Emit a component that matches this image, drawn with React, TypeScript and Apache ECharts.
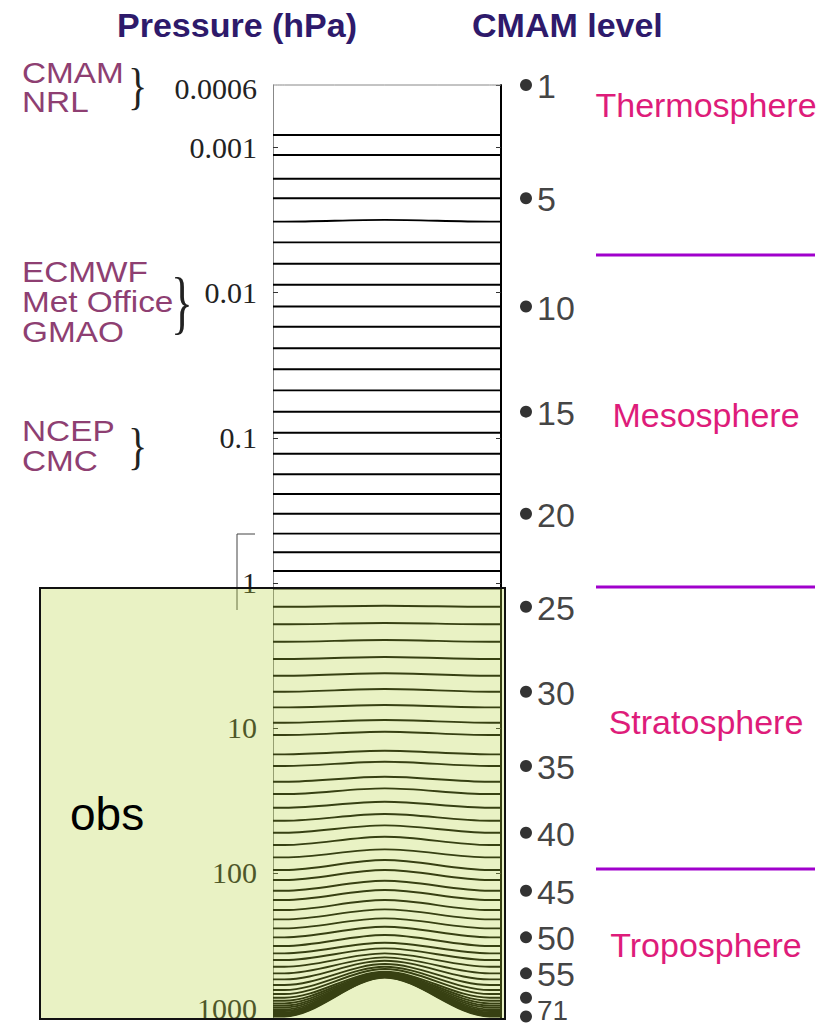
import React, { useEffect, useRef } from 'react';
import * as echarts from 'echarts';

// Pressure (hPa) of each CMAM model level (1..71) far from the mountain (plot edges)
const edgePressure = [
  0.00037, 0.000818, 0.001124, 0.001638, 0.002235, 0.003236, 0.004497, 0.00631, 0.00881, 0.01245,
  0.01715, 0.02415, 0.03373, 0.0471, 0.0661, 0.0923, 0.1288, 0.1786, 0.2443, 0.334,
  0.458, 0.616, 0.829, 1.095, 1.462, 1.932, 2.548, 3.352, 4.37, 5.634,
  7.217, 9.215, 11.2, 15.22, 18.32, 23.51, 28.58, 35.52, 43.66, 52.83,
  64.22, 78.06, 95.5, 111.9, 132.7, 153.8, 180.3, 208.9, 240.9, 278.0,
  319.2, 358.4, 398.6, 443.4, 492.4, 541.5, 592.7, 641.8, 683.9, 725.2,
  760.6, 792.7, 820.9, 847.4, 872.0, 895.9, 917.4, 934.8, 951.3, 965.0,
  977.2,
];

// Pressure (hPa) of each level above the mountain peak (centre of the plot)
const peakPressure = [
  0.00037, 0.000818, 0.001124, 0.001638, 0.002235, 0.00315, 0.004497, 0.00631, 0.00881, 0.01245,
  0.01715, 0.02415, 0.03373, 0.0471, 0.0661, 0.0923, 0.1288, 0.1786, 0.2443, 0.334,
  0.458, 0.616, 0.829, 1.095, 1.438, 1.893, 2.479, 3.248, 4.206, 5.397,
  6.958, 8.83, 10.63, 14.37, 17.12, 21.72, 26.11, 32.29, 39.26, 46.97,
  56.29, 68.77, 81.5, 95.5, 113.2, 131.2, 153.8, 178.2, 205.6, 234.9,
  268.0, 302.9, 331.1, 358.4, 381.9, 403.0, 424.7, 443.4, 459.8, 479.9,
  487.5, 493.8, 499.3, 504.1, 508.1, 512.1, 515.4, 518.7, 522.0, 524.5,
  527.0,
];

// horizontal positions (fraction of the cross-section) of: edge, foot, peak, foot, edge
const profileX = [0, 0.05, 0.49, 0.95, 1];

const markedLevels = [1, 5, 10, 15, 20, 25, 30, 35, 40, 45, 50, 55, 60, 71];
const unlabeledLevels = [60];

const pressureMin = 0.00037;
const pressureMax = 1000;
const topLabel = '0.0006';

const layerNames = ['Thermosphere', 'Mesosphere', 'Stratosphere', 'Troposphere'];
const centreGroups = [['CMAM', 'NRL'], ['ECMWF', 'Met Office', 'GMAO'], ['NCEP', 'CMC']];

const SANS = '"Liberation Sans", Arial, sans-serif';
const SERIF = '"Liberation Serif", "Times New Roman", serif';

export default function App() {
  const ref = useRef<HTMLDivElement>(null);

  useEffect(() => {
    if (!ref.current) return;
    const chart = echarts.init(ref.current, undefined, { renderer: 'svg' });

    const levelSeries = edgePressure.map((pe, i) => {
      const pk = peakPressure[i];
      const ys = [pe, pe, pk, pe, pe];
      return {
        type: 'line',
        xAxisIndex: 0,
        yAxisIndex: 0,
        data: profileX.map((x, j) => [x, ys[j]]),
        symbol: 'none',
        showSymbol: false,
        smooth: 0.33,
        smoothMonotone: 'x',
        clip: false,
        silent: true,
        lineStyle: { color: i === 0 ? '#888' : '#000', width: i === 0 ? 1 : 1.9 },
        z: 2,
      };
    });

    const lastLevel = markedLevels[markedLevels.length - 1];
    const dotSeries = {
      type: 'scatter',
      xAxisIndex: 1,
      yAxisIndex: 2,
      data: markedLevels.map((lv) =>
        lv === lastLevel
          ? { value: [0.26, edgePressure[lv - 1], lv], label: { offset: [0, -6], fontSize: 28 } }
          : { value: [0.26, edgePressure[lv - 1], lv] }
      ),
      symbol: 'circle',
      symbolSize: 12,
      clip: false,
      silent: true,
      itemStyle: { color: '#000' },
      label: {
        show: true,
        position: 'right',
        distance: 5,
        offset: [0, 1],
        fontFamily: SANS,
        fontSize: 34,
        color: '#111',
        formatter: (p: any) => (unlabeledLevels.includes(p.value[2]) ? '' : String(p.value[2])),
      },
    };

    const fmt = (v: number) => {
      const s = String(parseFloat(Number(v).toPrecision(3)));
      return v >= pressureMax * 0.999 ? '{b|' + s + '}' : s;
    };

    const centreTexts: any[] = [];
    const centreY = [[73, 102], [272, 302, 332], [431, 461]];
    centreGroups.forEach((g, gi) => {
      g.forEach((name, ni) => {
        centreTexts.push({
          type: 'text',
          x: 22,
          y: centreY[gi][ni],
          scaleX: 1.15,
          style: { text: name, fill: '#8e3f72', font: `29px ${SANS}`, verticalAlign: 'middle', align: 'left' },
        });
      });
    });

    const braces = [
      { x: 128, y: 86, size: 50, sx: 0.8 },
      { x: 171, y: 302, size: 70, sx: 0.65 },
      { x: 128, y: 446, size: 50, sx: 0.8 },
    ].map((b) => ({
      type: 'text',
      x: b.x,
      y: b.y,
      scaleX: b.sx,
      style: { text: '}', fill: '#222', font: `${b.size}px ${SERIF}`, verticalAlign: 'middle', align: 'left' },
    }));

    const layerY = [105, 415, 722, 945];
    const layerTexts = layerNames.map((n, i) => ({
      type: 'text',
      x: 706,
      y: layerY[i],
      style: { text: n, fill: '#de1c7a', font: `34px ${SANS}`, align: 'center', verticalAlign: 'middle' },
    }));

    const dividers = [255, 587, 869].map((y) => ({
      type: 'line',
      shape: { x1: 596, y1: y, x2: 815, y2: y },
      style: { stroke: '#a000cc', lineWidth: 3 },
    }));

    chart.setOption({
      animation: false,
      backgroundColor: '#fff',
      grid: [
        { left: 273, right: 320, top: 85, bottom: 10 },
        { left: 500, width: 100, top: 85, bottom: 10 },
      ],
      xAxis: [
        { type: 'value', gridIndex: 0, min: 0, max: 1, show: false },
        { type: 'value', gridIndex: 1, min: 0, max: 1, show: false },
      ],
      yAxis: [
        {
          type: 'log',
          logBase: 10,
          gridIndex: 0,
          inverse: true,
          min: pressureMin,
          max: pressureMax,
          position: 'left',
          splitLine: { show: false },
          axisLine: { show: true, lineStyle: { color: '#888', width: 1 } },
          axisTick: { show: true, inside: true, length: 5, lineStyle: { color: '#333' } },
          axisLabel: {
            show: true,
            showMinLabel: false,
            margin: 16,
            fontFamily: SERIF,
            fontSize: 30,
            color: '#222',
            formatter: fmt,
            rich: {
              b: { fontFamily: SERIF, fontSize: 30, color: '#222', padding: [0, 0, 20, 0] },
            },
          },
        },
        {
          type: 'log',
          logBase: 10,
          gridIndex: 0,
          inverse: true,
          min: pressureMin,
          max: pressureMax,
          position: 'right',
          splitLine: { show: false },
          axisLine: { show: true, lineStyle: { color: '#000', width: 2 } },
          axisTick: { show: true, inside: true, length: 5, lineStyle: { color: '#333' } },
          axisLabel: { show: false },
        },
        {
          type: 'log',
          logBase: 10,
          gridIndex: 1,
          inverse: true,
          min: pressureMin,
          max: pressureMax,
          show: false,
        },
      ],
      series: [...levelSeries, dotSeries],
      graphic: [
        {
          type: 'text',
          x: 117,
          y: 25,
          style: { text: 'Pressure (hPa)', fill: '#2e1a6b', font: `bold 34px ${SANS}`, verticalAlign: 'middle' },
        },
        {
          type: 'text',
          x: 472,
          y: 25,
          style: { text: 'CMAM level', fill: '#2e1a6b', font: `bold 34px ${SANS}`, verticalAlign: 'middle' },
        },
        {
          type: 'text',
          x: 257,
          y: 88,
          style: { text: topLabel, fill: '#222', font: `30px ${SERIF}`, align: 'right', verticalAlign: 'middle' },
        },
        ...centreTexts,
        ...braces,
        ...layerTexts,
        ...dividers,
        {
          type: 'polyline',
          shape: { points: [[255, 534], [237, 534], [237, 610]] },
          style: { stroke: '#444', lineWidth: 1, fill: 'none' },
        },
        {
          type: 'rect',
          z: 100,
          shape: { x: 40, y: 588, width: 465, height: 431 },
          style: { fill: 'rgba(182,212,58,0.3)', stroke: '#111', lineWidth: 2 },
        },
        {
          type: 'text',
          z: 101,
          x: 70,
          y: 814,
          style: { text: 'obs', fill: '#000', font: `46px ${SANS}`, verticalAlign: 'middle' },
        },
      ],
    });

    return () => chart.dispose();
  }, []);

  return (
    <div
      ref={ref}
      style={{ position: 'fixed', left: 0, top: 0, width: 821, height: 1028, background: '#fff' }}
    />
  );
}
